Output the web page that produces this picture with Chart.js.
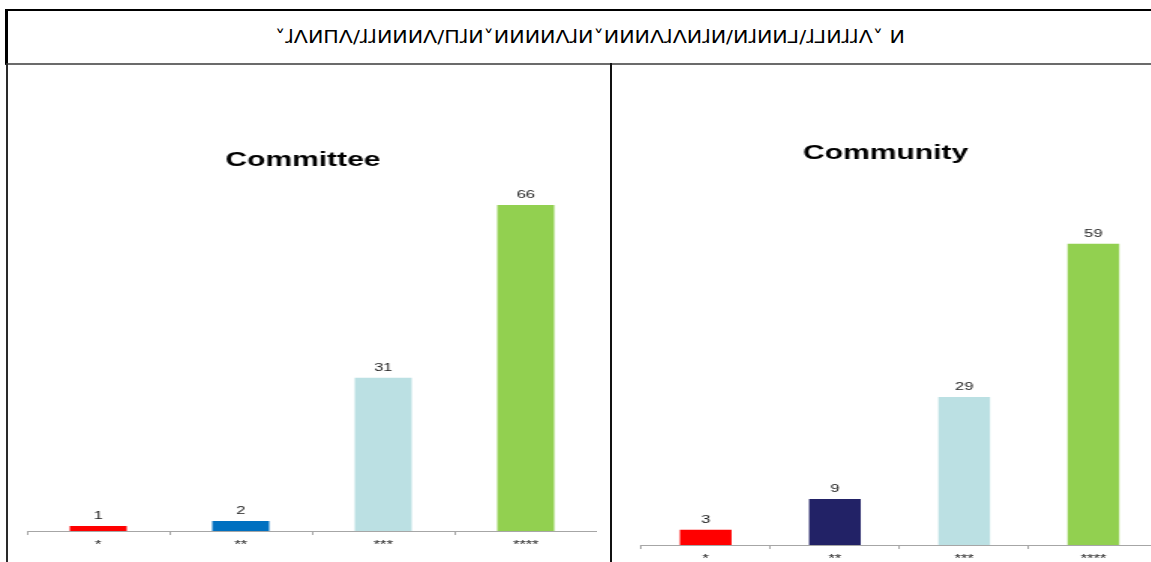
<!DOCTYPE html>
<html>
<head>
<meta charset="utf-8">
<script src="https://cdn.jsdelivr.net/npm/chart.js@4/dist/chart.umd.min.js"></script>
<style>
  html, body { margin: 0; padding: 0; background: #fff; width: 1151px; height: 562px; overflow: hidden; }
  #header {
    position: absolute; left: 5px; top: 9px; width: 1200px; height: 52px;
    border-top: 2px solid #000; border-left: 3px solid #000; border-bottom: 2px solid #6b6b6b;
  }
  #header span {
    position: absolute; left: 582px; top: 25px; white-space: pre;
    font: 18px "DejaVu Sans", sans-serif; color: #000;
    transform-origin: center center;
  }
  .rule { position: absolute; top: 63px; height: 499px; width: 2px; }
  #ruleLeft { left: 6px; background: #2a2a2a; }
  #ruleMid { left: 610px; background: #111; }
  canvas { position: absolute; top: 64px; }
</style>
</head>
<body>
<div id="header"><span id="headerText"></span></div>
<div class="rule" id="ruleLeft"></div>
<div class="rule" id="ruleMid"></div>
<canvas id="committeeChart"></canvas>
<canvas id="communityChart"></canvas>

<script>
const headerTitle = '˅ɺΛИΠΛ/ɺɺИИИΛ/ΠɺИ˅ИИИИΛɺИ˅ИИИΛɺΛИɺИ/ИɺИИ⅃/ɺ⅃ИɺɺΛ˅ И';

const categories = ['*', '**', '***', '****'];
const committeeValues = [1, 2, 31, 66];
const communityValues = [3, 9, 29, 59];

const committeeColors = ['#ff0000', '#0070c0', '#bbe0e3', '#92d050'];
const communityColors = ['#ff0000', '#222266', '#bbe0e3', '#92d050'];

// the panels are drawn narrow and widened with css
const stretch = 1.5;

const headerText = document.getElementById('headerText');
headerText.textContent = headerTitle;
const w = headerText.getBoundingClientRect().width;
headerText.style.transform = `translate(-50%, -50%) scaleX(${630 / w})`;

const valueLabels = {
  id: 'valueLabels',
  afterDatasetsDraw(chart) {
    const ctx = chart.ctx;
    const values = chart.data.datasets[0].data;
    ctx.save();
    ctx.font = '11px "Liberation Sans", Arial, sans-serif';
    ctx.fillStyle = '#222';
    ctx.textAlign = 'center';
    ctx.textBaseline = 'alphabetic';
    chart.getDatasetMeta(0).data.forEach((bar, i) => {
      ctx.fillText(values[i], bar.x, bar.y - 7);
    });
    ctx.restore();
  }
};

function drawPanel(id, title, values, colors, p) {
  const canvas = document.getElementById(id);
  canvas.width = p.width;
  canvas.height = 498;
  canvas.style.left = p.left + 'px';
  canvas.style.width = (p.width * stretch) + 'px';
  canvas.style.height = '498px';

  return new Chart(canvas, {
    type: 'bar',
    data: {
      labels: categories,
      datasets: [{
        data: values,
        backgroundColor: colors,
        categoryPercentage: 0.5,
        barPercentage: 0.8
      }]
    },
    options: {
      responsive: false,
      animation: false,
      devicePixelRatio: 1,
      layout: { padding: 0 },
      plugins: {
        legend: { display: false },
        tooltip: { enabled: false },
        title: {
          display: true,
          text: title,
          color: '#000',
          font: { family: '"Liberation Sans", Arial, sans-serif', size: 20, weight: 'bold', lineHeight: 1.2 },
          padding: { top: p.titleTop, bottom: p.titleBottom }
        }
      },
      scales: {
        x: {
          grid: { drawOnChartArea: false, drawTicks: true, tickLength: 4, color: '#a6a6a6' },
          border: { color: '#a6a6a6', width: 1 },
          ticks: { color: '#222', padding: 3, font: { family: '"Liberation Sans", Arial, sans-serif', size: 11 } },
          afterFit(scale) { scale.height = p.axisHeight; }
        },
        y: {
          min: 0,
          max: 70,
          grid: { display: false },
          border: { display: false },
          ticks: { display: false },
          afterFit(scale) { scale.width = p.gutter; }
        }
      }
    },
    plugins: [valueLabels]
  });
}

drawPanel('committeeChart', 'Committee', committeeValues, committeeColors, {
  left: 9, width: 392, gutter: 12, axisHeight: 31, titleTop: 84.6, titleBottom: 12.6
});

drawPanel('communityChart', 'Community', communityValues, communityColors, {
  left: 613, width: 363, gutter: 18.7, axisHeight: 17, titleTop: 77.6, titleBottom: 22
});
</script>
</body>
</html>
